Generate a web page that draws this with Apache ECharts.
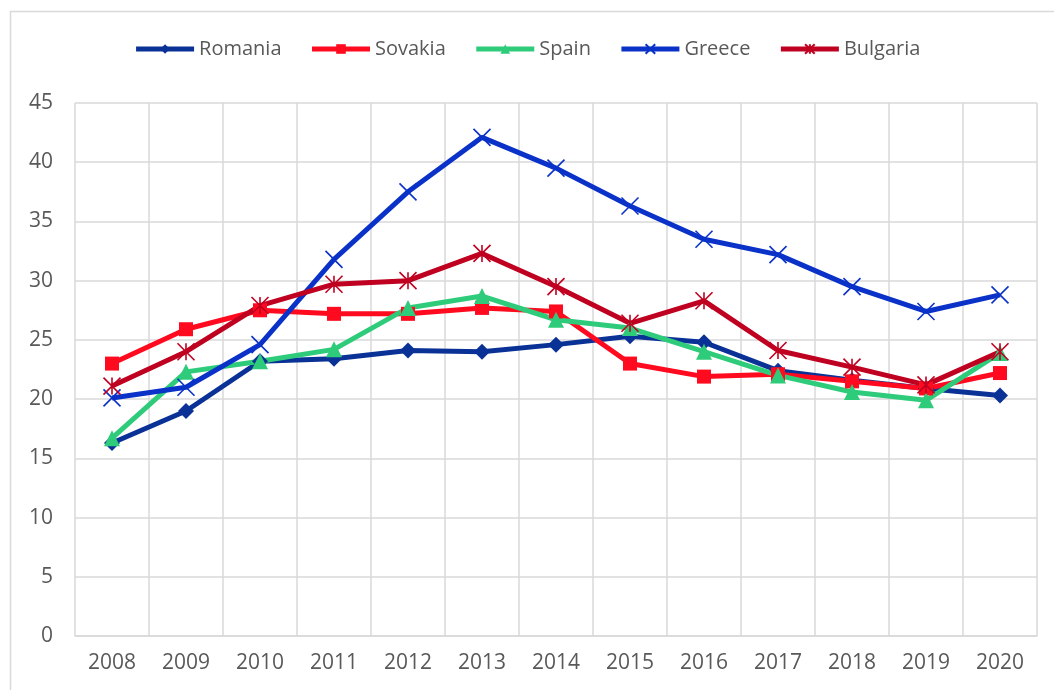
<!DOCTYPE html>
<html>
<head>
<meta charset="utf-8">
<script src="https://cdn.jsdelivr.net/npm/echarts@6/dist/echarts.min.js"></script>
<style>
  html, body { margin: 0; padding: 0; background: #fff; }
  #chart { width: 1054px; height: 690px; }
</style>
</head>
<body>
<div id="chart"></div>
<script>
var years = ['2008', '2009', '2010', '2011', '2012', '2013', '2014', '2015', '2016', '2017', '2018', '2019', '2020'];

var romania  = [16.3, 19.0, 23.2, 23.4, 24.1, 24.0, 24.6, 25.3, 24.8, 22.4, 21.6, 20.9, 20.3];
var sovakia  = [23.0, 25.9, 27.5, 27.2, 27.2, 27.7, 27.4, 23.0, 21.9, 22.1, 21.5, 20.9, 22.2];
var spain    = [16.7, 22.3, 23.2, 24.2, 27.7, 28.7, 26.7, 26.0, 24.0, 22.0, 20.6, 19.9, 23.9];
var greece   = [20.1, 21.0, 24.6, 31.8, 37.5, 42.1, 39.5, 36.3, 33.5, 32.2, 29.5, 27.4, 28.8];
var bulgaria = [21.1, 24.0, 27.9, 29.7, 30.0, 32.3, 29.5, 26.4, 28.3, 24.1, 22.7, 21.2, 24.0];

var yTicks = [0, 45, 5]; // min, max, interval

var font = 'Open Sans';
var textGray = '#595959';

// 叉號 and 星號 markers, stroked only
var crossPath = 'path://M0,0L10,10M10,0L0,10';
var starPath = 'path://M0,0L10,10M10,0L0,10M5,0L5,10';

function makeLine(name, data, color, symbol, size, stroke) {
  return {
    name: name,
    type: 'line',
    data: data,
    symbol: symbol,
    symbolSize: size,
    lineStyle: { color: color, width: 5 },
    itemStyle: {
      color: color,
      borderColor: color,
      borderWidth: stroke || 0
    },
    z: 2
  };
}

var chartDom = document.getElementById('chart');
var myChart = echarts.init(chartDom);

var option = {
  animation: false,
  backgroundColor: '#fff',
  graphic: [
    {
      type: 'rect',
      left: 8,
      top: 9,
      shape: { width: 1100, height: 720 },
      style: { fill: 'none', stroke: '#d9d9d9', lineWidth: 1.5 },
      silent: true,
      z: -1
    }
  ],
  legend: {
    top: 34,
    left: 'center',
    itemWidth: 58,
    itemHeight: 12,
    itemGap: 28,
    lineStyle: { width: 5 },
    textStyle: { fontFamily: font, fontSize: 20, color: textGray },
    data: ['Romania', 'Sovakia', 'Spain', 'Greece', 'Bulgaria']
  },
  grid: {
    left: 75,
    right: 17,
    top: 103,
    bottom: 54,
    containLabel: false
  },
  xAxis: {
    type: 'category',
    data: years,
    boundaryGap: true,
    axisLine: { show: true, lineStyle: { color: '#d9d9d9', width: 1.5 } },
    axisTick: { show: false },
    axisLabel: { fontFamily: font, fontSize: 21, color: textGray, margin: 17 },
    splitLine: { show: true, lineStyle: { color: '#d9d9d9', width: 1.5 } }
  },
  yAxis: {
    type: 'value',
    min: yTicks[0],
    max: yTicks[1],
    interval: yTicks[2],
    axisLine: { show: false },
    axisTick: { show: false },
    axisLabel: { fontFamily: font, fontSize: 21, color: textGray, margin: 22 },
    splitLine: { show: true, lineStyle: { color: '#d9d9d9', width: 1.5 } }
  },
  series: [
    makeLine('Romania', romania, '#0a3296', 'diamond', 16),
    makeLine('Sovakia', sovakia, '#ff0a1e', 'rect', 14),
    makeLine('Spain', spain, '#2ecc7a', 'triangle', 16),
    makeLine('Greece', greece, '#0a32c8', crossPath, 17, 1.6),
    makeLine('Bulgaria', bulgaria, '#c00020', starPath, 17, 1.6)
  ]
};

option && myChart.setOption(option);
</script>
</body>
</html>
